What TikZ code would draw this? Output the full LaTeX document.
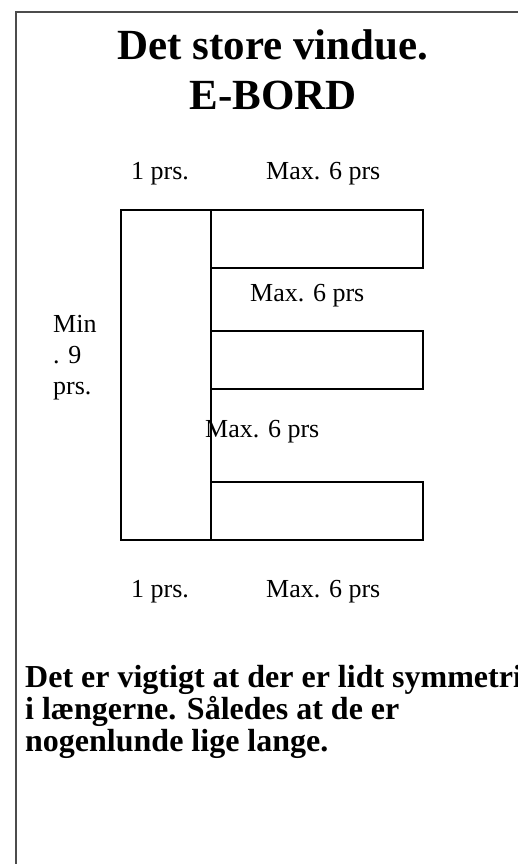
\documentclass[tikz,border=0pt]{standalone}
\usepackage{fontspec}
\setmainfont{Liberation Serif}
\usetikzlibrary{positioning}

\begin{document}
\begin{tikzpicture}[x=1pt,y=-1pt,
    lbl/.style={anchor=base west,inner sep=0pt,font=\fontsize{26}{31}\selectfont},
    seat/.style={draw,line width=2.2pt}]
    \useasboundingbox (0,0) rectangle (517,864);
    \draw[line width=1.5pt,black!70] (16,870) -- (16,12) -- (525,12);
    \node[anchor=base,inner sep=0pt,align=center,font=\bfseries\fontsize{43}{50}\selectfont] (title) at (273,110) {Det store vindue.\\E-BORD};
    % the E
    \draw[seat] (121,210) rectangle (211,540);
    \foreach \y in {210,331,482}
      \draw[seat] (211,\y) rectangle +(212,58);
    \node[lbl] (topone) at (131,179) {1 prs.};
    \node[lbl] (topmax) at (266,179) {Max. 6 prs};
    \node[lbl] (midmax) at (250,301) {Max. 6 prs};
    \node[lbl] (lowmax) at (205,437) {Max. 6 prs};
    \node[lbl] (botone) at (131,597) {1 prs.};
    \node[lbl] (botmax) at (266,597) {Max. 6 prs};
    \node[lbl,align=left] (minnine) at (53,394) {Min\\. 9\\prs.};
    \node[anchor=base west,inner sep=0pt,align=left,font=\bfseries\fontsize{32}{32}\selectfont] (note) at (25,751) {Det er vigtigt at der er lidt symmetri\\i længerne. Således at de er\\nogenlunde lige lange.};
  \end{tikzpicture}
\end{document}
